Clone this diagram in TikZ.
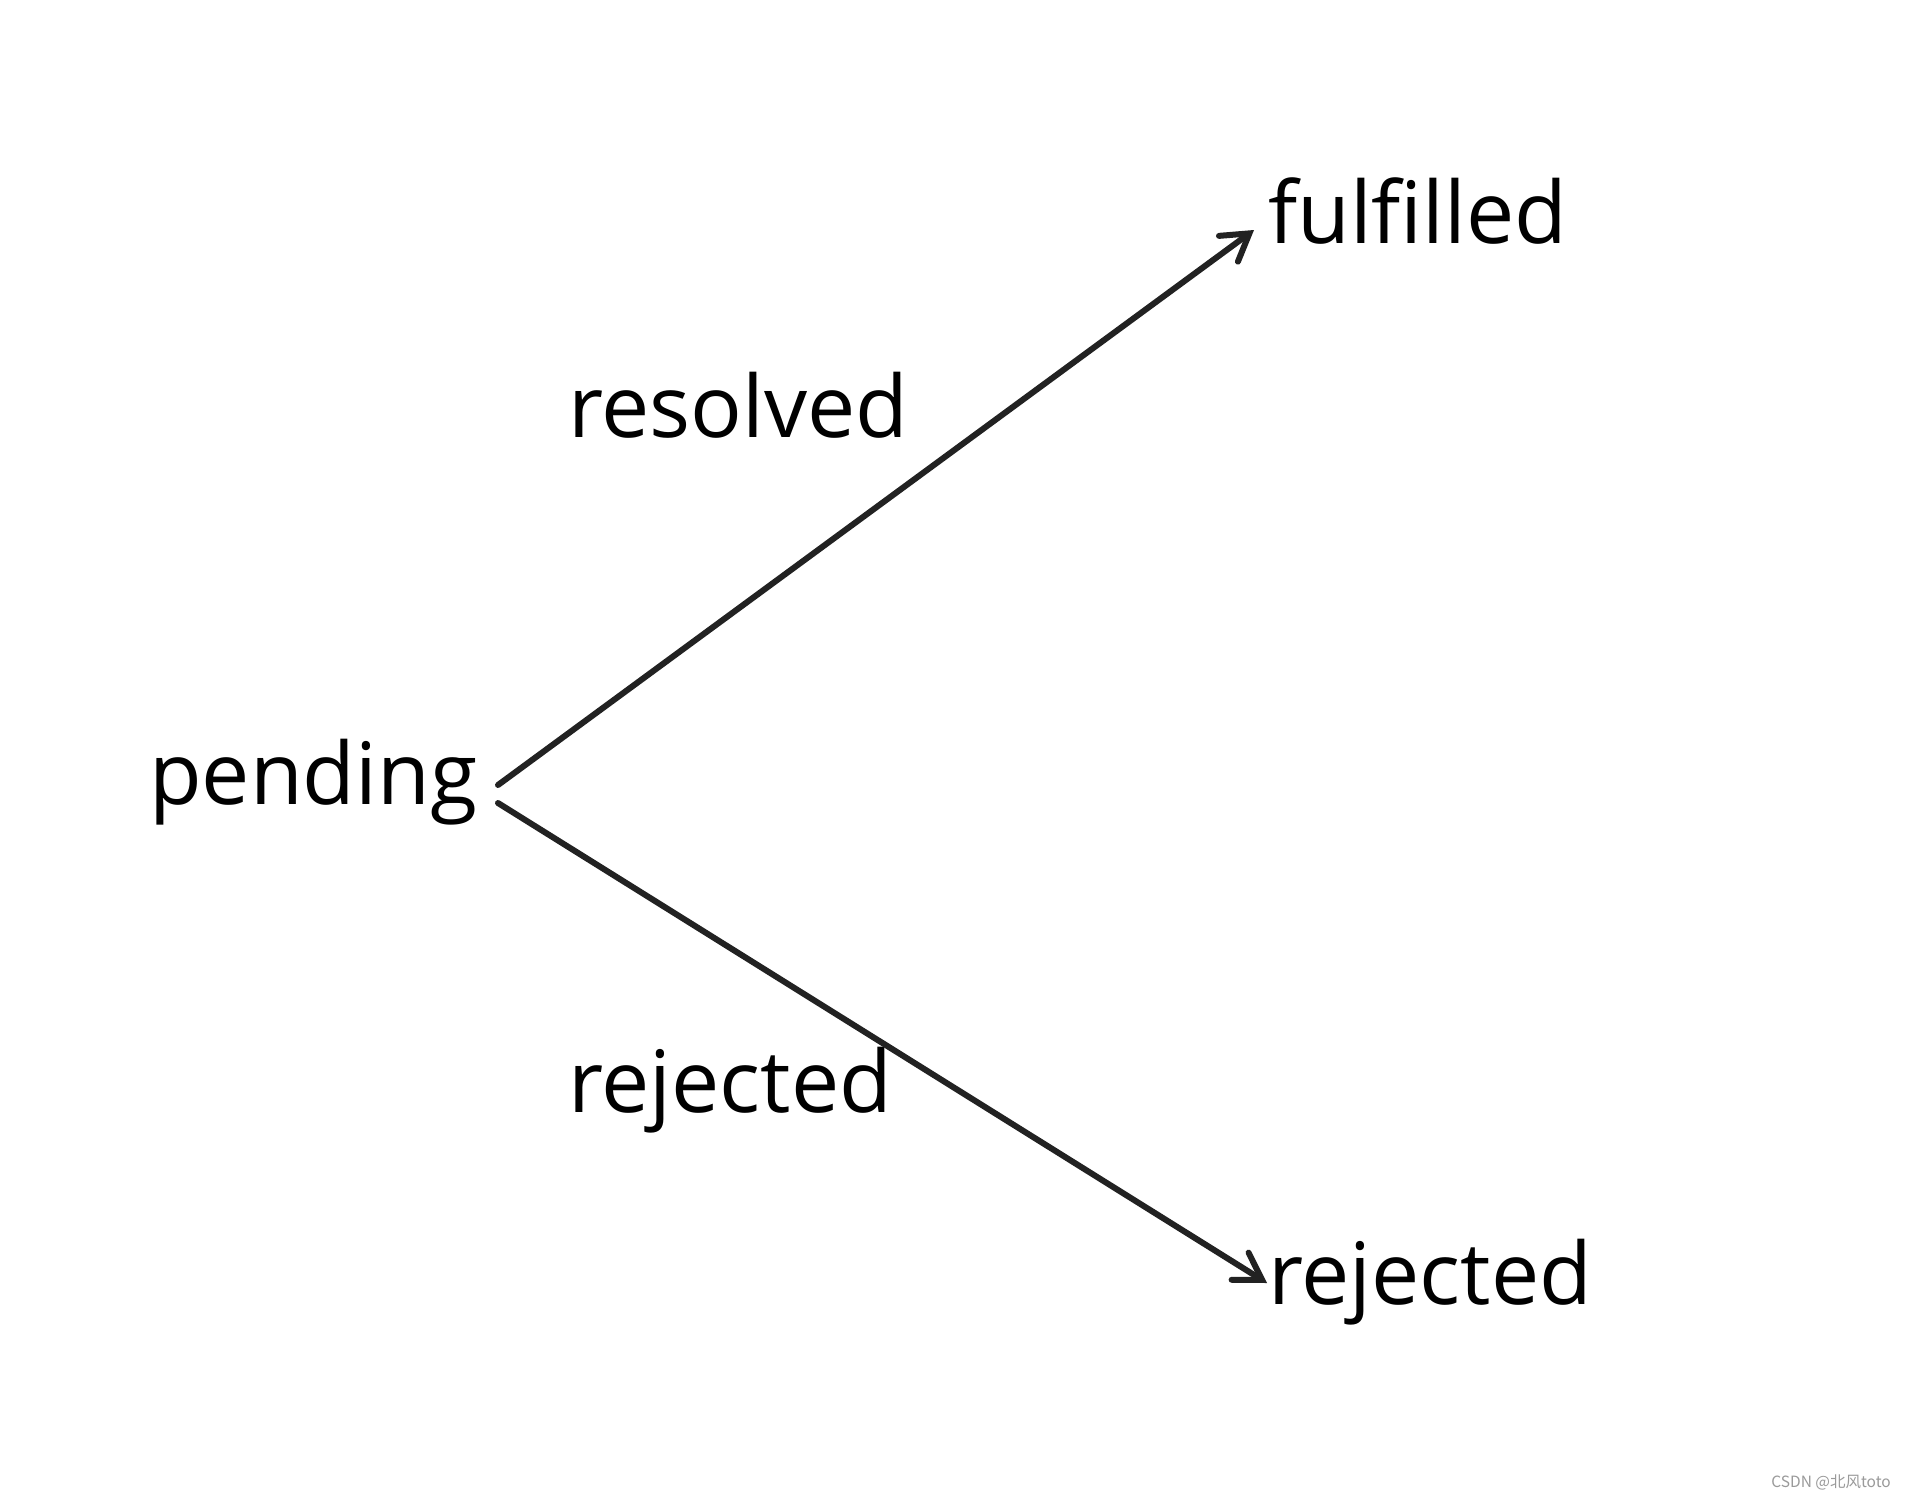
\documentclass[tikz,border=0pt]{standalone}
\usepackage{fontspec}
\setmainfont{Open Sans}
\newfontfamily\cjk{Noto Sans CJK SC}
\usetikzlibrary{arrows.meta}
\definecolor{linec}{HTML}{222222}
\definecolor{wmark}{HTML}{9A9A9A}
\begin{document}
\begin{tikzpicture}[x=1pt,y=-1pt,
  lbl/.style={anchor=base west,inner sep=0pt,font=\fontsize{86}{100}\selectfont},
  conn/.style={draw=linec,line width=6pt,line cap=round,
    -{Straight Barb[length=26pt,width=32pt,line cap=round]}}]
\useasboundingbox[fill=white] (0,0) rectangle (1905,1498);
\node[lbl] (pending) at (149,804) {pending};
\node[lbl] (fulfilled) at (1268,243) {fulfilled};
\node[lbl] (resolved) at (568,437) {resolved};
\node[lbl] (rejmid) at (568,1112) {rejected};
\node[lbl] (rejected) at (1268,1304) {rejected};
\node[anchor=base east,inner sep=0pt,text=wmark,font=\cjk\fontsize{15.5}{18}\selectfont] (wm) at (1891,1487) {CSDN @北风toto};
\coordinate (s1) at (498,785);
\coordinate (e1) at (1254,230);
\coordinate (s2) at (498,803);
\coordinate (e2) at (1267,1283);
\draw[conn] (s1) -- (e1);
\draw[conn] (s2) -- (e2);
\end{tikzpicture}
\end{document}
